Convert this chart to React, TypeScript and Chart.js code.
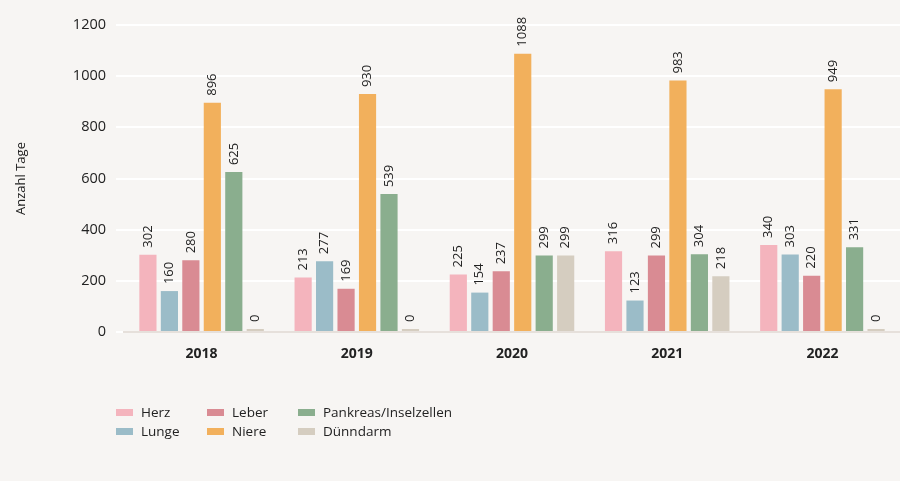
import React, { useEffect, useRef } from "react";
import { Chart, registerables } from "chart.js";
Chart.register(...registerables);

const years = ["2018", "2019", "2020", "2021", "2022"];
const herz = [302, 213, 225, 316, 340];
const lunge = [160, 277, 154, 123, 303];
const leber = [280, 169, 237, 299, 220];
const niere = [896, 930, 1088, 983, 949];
const pankreas = [625, 539, 299, 304, 331];
const duenndarm = [0, 0, 299, 218, 0];
const seriesNames = ["Herz", "Lunge", "Leber", "Niere", "Pankreas/Inselzellen", "Dünndarm"];
const seriesData = [herz, lunge, leber, niere, pankreas, duenndarm];
const seriesColors = ["#f4b4bd", "#9bbcc8", "#d98b93", "#f2b05c", "#8aae8e", "#d5cdc0"];
const yTitle = "Anzahl Tage";
const yMax = 1200;
const yStep = 200;

const FONT = '"Open Sans", sans-serif';
const TEXT = "#222222";
const BG = "#f7f5f3";

const valueLabels = {
  id: "valueLabels",
  afterDatasetsDraw(chart: any) {
    const ctx = chart.ctx;
    ctx.save();
    ctx.font = `13px ${FONT}`;
    ctx.fillStyle = TEXT;
    chart.data.datasets.forEach((ds: any, i: number) => {
      const meta = chart.getDatasetMeta(i);
      meta.data.forEach((el: any, j: number) => {
        const v = ds.data[j];
        ctx.save();
        ctx.translate(el.x, el.y - 7);
        ctx.rotate(-Math.PI / 2);
        ctx.textAlign = "left";
        ctx.textBaseline = "middle";
        ctx.fillText(String(v), 0, 0);
        ctx.restore();
      });
    });
    ctx.restore();
  },
};

export default function App() {
  const ref = useRef<HTMLCanvasElement | null>(null);
  useEffect(() => {
    if (!ref.current) return;
    const chart = new Chart(ref.current, {
      type: "bar",
      data: {
        labels: years,
        datasets: seriesNames.map((name, i) => ({
          label: name,
          data: seriesData[i],
          backgroundColor: seriesColors[i],
          borderWidth: 0,
          categoryPercentage: 0.83,
          barPercentage: 0.8,
          minBarLength: i === 5 ? 3 : 0,
        })),
      },
      options: {
        animation: false,
        responsive: false,
        layout: { padding: { top: 25, bottom: 0, left: 0, right: 0 } },
        plugins: {
          legend: { display: false },
          tooltip: { enabled: false },
        },
        scales: {
          x: {
            grid: { display: false, drawTicks: false },
            border: { display: true, color: "#e6e0db", width: 2 },
            ticks: {
              color: TEXT,
              font: { family: FONT, size: 14, weight: "bold" },
              padding: 14,
            },
            afterFit: (s: any) => {
              s.height = 149;
            },
          },
          y: {
            min: 0,
            max: yMax,
            grid: { color: "#ffffff", lineWidth: 2, drawTicks: true, tickLength: 8 },
            border: { display: false },
            ticks: {
              stepSize: yStep,
              color: TEXT,
              font: { family: FONT, size: 14.5 },
              padding: 10,
              callback: (v: any) => String(v),
            },
            title: {
              display: true,
              text: yTitle,
              color: TEXT,
              font: { family: FONT, size: 13 },
              padding: { top: 13, bottom: 0 },
            },
            afterFit: (s: any) => {
              s.width = 124;
            },
          },
        },
      },
      plugins: [valueLabels],
    });
    return () => chart.destroy();
  }, []);

  const colX = [116, 207, 298];
  const rowY = [412, 431];
  return (
    <div
      style={{
        position: "absolute",
        left: 0,
        top: 0,
        width: 900,
        height: 481,
        background: BG,
        fontFamily: FONT,
      }}
    >
      <canvas ref={ref} width={900} height={481} style={{ display: "block" }} />
      {seriesNames.map((name, i) => {
        const col = Math.floor(i / 2);
        const row = i % 2;
        return (
          <div
            key={name}
            style={{
              position: "absolute",
              left: colX[col],
              top: rowY[row] - 10,
              height: 20,
              display: "flex",
              alignItems: "center",
              fontSize: 13.5,
              color: TEXT,
              whiteSpace: "nowrap",
            }}
          >
            <span
              style={{
                display: "inline-block",
                width: 17,
                height: 7,
                background: seriesColors[i],
                marginRight: 8,
              }}
            />
            {name}
          </div>
        );
      })}
    </div>
  );
}
